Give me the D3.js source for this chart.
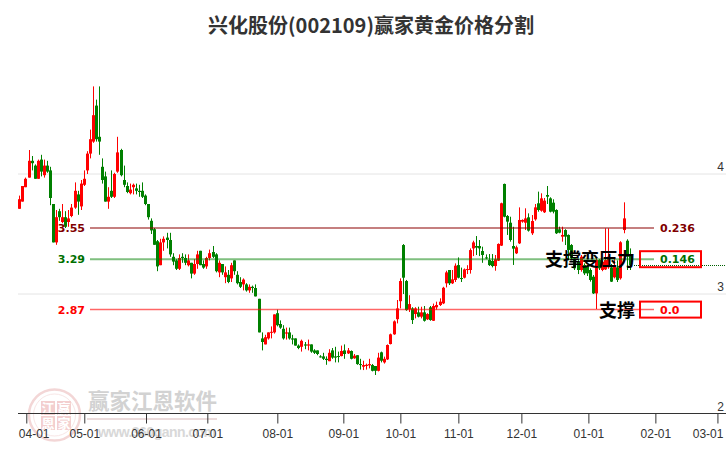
<!DOCTYPE html>
<html><head><meta charset="utf-8">
<script src="https://cdnjs.cloudflare.com/ajax/libs/d3/7.8.5/d3.min.js"></script>
<style>html,body{margin:0;padding:0;background:#fff}svg{display:block}</style>
</head><body><svg id="c" width="726" height="450"></svg>
<script>
const titleText = "兴化股份(002109)赢家黄金价格分割";
const tickLabels = ["04-01","05-01","06-01","07-01","08-01","09-01","10-01","11-01","12-01","01-01","02-01","03-01"];
const tickSlots = [2.28,21.19,41.31,61.3,84.12,105.64,124.23,143.14,163.68,185.53,207.37,227.6];
const priceTicks = [2,3,4];
const levels = [3.55,3.29,2.87];
const levelRatios = ["0.236","0.146","0.0"];
const opens = [3.71,3.77,3.89,3.97,4.11,4.07,3.96,4.12,3.99,4.07,4.03,3.75,3.43,3.69,3.60,3.64,3.60,3.65,3.72,3.83,
3.73,3.91,4.03,4.17,4.27,4.57,4.31,4.06,3.98,3.77,3.86,3.81,4.02,4.20,3.95,3.90,3.84,3.89,3.88,3.86,
3.86,3.82,3.75,3.61,3.54,3.44,3.24,3.43,3.47,3.45,3.31,3.28,3.21,3.31,3.30,3.24,3.26,3.17,3.25,3.36,
3.25,3.23,3.30,3.35,3.33,3.18,3.25,3.14,3.16,3.13,3.28,3.16,3.10,3.08,3.08,3.03,3.06,3.05,2.96,2.63,
2.58,2.63,2.68,2.68,2.84,2.75,2.71,2.67,2.68,2.63,2.63,2.57,2.56,2.58,2.57,2.58,2.53,2.53,2.48,2.48,
2.46,2.44,2.53,2.48,2.483,2.483,2.53,2.505,2.525,2.464,2.49,2.416,2.394,2.40,2.405,2.408,2.40,2.36,2.514,2.43,
2.455,2.583,2.664,2.79,2.94,3.408,3.108,2.872,2.88,2.833,2.847,2.811,2.847,2.789,2.889,2.777,2.889,2.908,2.922,3.089,
3.20,3.089,3.117,3.241,3.133,3.136,3.203,3.20,3.38,3.40,3.40,3.358,3.305,3.283,3.275,3.233,3.278,3.403,3.917,3.65,
3.594,3.40,3.339,3.422,3.603,3.594,3.639,3.506,3.622,3.756,3.694,3.681,3.825,3.797,3.761,3.70,3.539,3.478,3.533,3.492,
3.408,3.297,3.269,3.20,3.241,3.228,3.20,3.144,3.005,3.283,3.20,3.205,3.222,3.222,3.139,3.222,3.131,3.533,3.444,3.325];
const closes = [3.79,3.90,3.96,4.11,4.09,3.96,4.11,4.02,4.07,4.02,3.80,3.43,3.64,3.64,3.64,3.56,3.63,3.72,3.86,3.77,
3.92,3.96,4.17,4.29,4.49,4.29,4.27,3.95,3.77,3.81,3.81,4.00,4.18,3.99,3.91,3.85,3.87,3.91,3.86,3.85,
3.81,3.75,3.64,3.53,3.41,3.23,3.43,3.46,3.45,3.33,3.27,3.21,3.30,3.30,3.26,3.28,3.17,3.25,3.33,3.24,
3.22,3.30,3.34,3.31,3.19,3.26,3.18,3.18,3.10,3.24,3.19,3.09,3.06,3.12,3.03,3.06,3.05,2.98,2.68,2.60,
2.64,2.68,2.685,2.83,2.74,2.72,2.63,2.68,2.63,2.62,2.57,2.55,2.61,2.57,2.58,2.52,2.51,2.50,2.475,2.46,
2.45,2.51,2.47,2.47,2.475,2.525,2.50,2.53,2.46,2.486,2.416,2.41,2.408,2.41,2.416,2.36,2.36,2.47,2.444,2.46,
2.575,2.664,2.772,2.88,3.108,3.136,2.866,2.916,2.783,2.88,2.811,2.847,2.777,2.833,2.783,2.90,2.908,2.936,3.052,3.18,
3.089,3.122,3.236,3.136,3.128,3.205,3.208,3.366,3.43,3.386,3.38,3.325,3.30,3.241,3.233,3.289,3.417,3.756,3.644,3.603,
3.45,3.378,3.389,3.617,3.617,3.63,3.528,3.608,3.722,3.70,3.797,3.778,3.811,3.686,3.686,3.506,3.511,3.492,3.478,3.367,
3.297,3.214,3.20,3.311,3.172,3.172,3.117,3.005,3.283,3.214,3.269,3.283,3.311,3.103,3.228,3.117,3.431,3.63,3.311,3.24];
const highs = [3.82,3.90,3.97,4.20,4.15,4.08,4.12,4.16,4.12,4.11,4.06,3.75,3.70,3.71,3.75,3.69,3.70,3.75,3.93,3.86,
3.95,4.03,4.19,4.37,4.73,4.62,4.73,4.13,4.02,3.89,4.03,4.01,4.31,4.21,4.07,3.93,3.92,3.92,3.92,3.91,
3.93,3.83,3.75,3.63,3.55,3.45,3.46,3.48,3.51,3.51,3.34,3.29,3.33,3.34,3.33,3.33,3.26,3.29,3.36,3.36,
3.28,3.31,3.37,3.40,3.34,3.28,3.25,3.23,3.20,3.26,3.28,3.19,3.14,3.13,3.09,3.08,3.07,3.08,2.96,2.68,
2.66,2.68,2.73,2.83,2.87,2.78,2.74,2.72,2.72,2.66,2.63,2.58,2.62,2.60,2.62,2.58,2.54,2.53,2.49,2.51,
2.48,2.54,2.55,2.56,2.52,2.57,2.58,2.55,2.53,2.50,2.49,2.46,2.444,2.42,2.46,2.417,2.40,2.51,2.52,2.478,
2.58,2.67,2.78,2.95,3.13,3.416,3.117,2.99,2.89,2.89,2.894,2.894,2.90,2.84,2.90,2.92,2.936,2.964,3.06,3.194,
3.20,3.20,3.255,3.305,3.22,3.213,3.24,3.38,3.444,3.483,3.45,3.394,3.33,3.333,3.333,3.325,3.422,3.761,3.92,3.658,
3.644,3.56,3.403,3.722,3.622,3.714,3.672,3.658,3.75,3.853,3.839,3.80,3.90,3.806,3.789,3.706,3.561,3.561,3.54,3.497,
3.416,3.305,3.283,3.325,3.255,3.241,3.214,3.158,3.297,3.29,3.28,3.547,3.547,3.25,3.30,3.28,3.44,3.764,3.456,3.38];
const lows = [3.71,3.77,3.89,3.97,4.03,3.96,3.96,3.98,3.97,4.01,3.74,3.43,3.41,3.61,3.59,3.55,3.56,3.64,3.71,3.66,
3.70,3.90,4.00,4.13,4.26,4.27,4.16,3.92,3.77,3.71,3.80,3.80,4.01,3.98,3.89,3.84,3.83,3.83,3.83,3.81,
3.80,3.74,3.62,3.50,3.41,3.19,3.24,3.36,3.38,3.31,3.24,3.20,3.20,3.26,3.24,3.23,3.13,3.16,3.21,3.24,
3.21,3.21,3.28,3.30,3.18,3.14,3.16,3.09,3.09,3.10,3.16,3.08,3.05,3.03,3.02,3.01,3.01,2.98,2.68,2.53,
2.58,2.62,2.63,2.67,2.73,2.71,2.62,2.62,2.62,2.58,2.57,2.54,2.52,2.54,2.53,2.51,2.50,2.49,2.47,2.45,
2.41,2.44,2.46,2.43,2.43,2.48,2.46,2.50,2.455,2.46,2.41,2.37,2.366,2.37,2.38,2.355,2.325,2.355,2.43,2.42,
2.45,2.58,2.66,2.755,2.88,3.0,2.86,2.85,2.75,2.797,2.805,2.797,2.77,2.783,2.777,2.775,2.87,2.90,2.916,3.055,
3.075,3.083,3.10,3.13,3.10,3.13,3.166,3.17,3.316,3.325,3.316,3.26,3.29,3.233,3.222,3.194,3.275,3.40,3.639,3.492,
3.436,3.242,3.333,3.417,3.594,3.533,3.52,3.492,3.611,3.686,3.686,3.675,3.75,3.68,3.672,3.50,3.506,3.436,3.408,3.283,
3.283,3.20,3.166,3.186,3.158,3.15,3.103,3.0,2.875,3.20,3.19,3.20,3.21,3.10,3.13,3.10,3.12,3.506,3.20,3.20];

const svg = d3.select("#c");
const x = d3.scaleLinear().domain([0, opens.length-1]).range([19.3, 629.7]);
const y = d3.scaleLinear().domain([2,4]).range([414,174]);
const RED="#ff0000", GREEN="#008000";
const CJK='"Noto Sans CJK SC","Noto Sans",sans-serif';

// watermark
const wm = svg.append("g");
wm.append("circle").attr("cx",54.5).attr("cy",415).attr("r",25.5).attr("fill","none").attr("stroke","#f3d6d6").attr("stroke-width",2.5);
wm.append("circle").attr("cx",54.5).attr("cy",415).attr("r",21).attr("fill","none").attr("stroke","#f8e6e6").attr("stroke-width",1);
[["江",41,401],["赢",57,401],["恩",41,416],["家",57,416]].forEach(([t,a,b])=>{
  wm.append("rect").attr("x",a).attr("y",b).attr("width",14).attr("height",14).attr("fill","#f3cfcf");
  wm.append("text").attr("x",a+7).attr("y",b+12).attr("text-anchor","middle").attr("font-family",CJK).attr("font-size",13).attr("font-weight",700).attr("fill","#fff").text(t);
});
wm.append("text").attr("x",88).attr("y",409).attr("font-family",CJK).attr("font-size",21.5).attr("font-weight",700).attr("fill","#d2d2d2").text("赢家江恩软件");
wm.append("rect").attr("x",87).attr("y",418).attr("width",130).attr("height",2).attr("fill","#ecdcdc");
wm.append("text").attr("x",98).attr("y",437).attr("font-family","Arial,'Liberation Sans',sans-serif").attr("font-size",14).attr("font-weight",700).attr("fill","#d8d8d8").attr("textLength",118).text("www.360gann.com");

// grid
svg.append("g").selectAll("line").data(priceTicks.filter(d=>d>2)).join("line")
  .attr("x1",18).attr("x2",726).attr("y1",d=>y(d)).attr("y2",d=>y(d)).attr("stroke","#e4e4e4").attr("stroke-width",1);

// axis
const ax = d3.axisBottom(x).tickValues(tickSlots).tickFormat((d,i)=>tickLabels[i]).tickSize(10).tickPadding(6);
const axG = svg.append("g").attr("transform","translate(0,413.5)").call(ax);
axG.select(".domain").remove();
axG.append("line").attr("x1",18).attr("x2",726).attr("stroke","#333");
axG.selectAll(".tick line").attr("stroke","#333");
axG.selectAll("text").attr("fill","#333").attr("font-size",12).attr("font-family","Arial,'Liberation Sans',sans-serif");
const ticksText = axG.selectAll(".tick text");
ticksText.filter((d,i)=>i===0).attr("text-anchor","start").attr("x",-8);
ticksText.filter((d,i)=>i===tickLabels.length-1).attr("text-anchor","end").attr("x",5.5);

// price labels
svg.append("g").selectAll("text").data(priceTicks).join("text")
  .attr("x",724).attr("y",d=>y(d)-3).attr("text-anchor","end").attr("fill","#333")
  .attr("font-size",12).attr("font-family","Arial,'Liberation Sans',sans-serif").text(d=>d);

// candles
const idx = d3.range(opens.length);
const col = i => closes[i]>=opens[i] ? RED : GREEN;
const cg = svg.append("g");
cg.selectAll("line").data(idx).join("line")
  .attr("x1",i=>Math.round(x(i))+.5).attr("x2",i=>Math.round(x(i))+.5)
  .attr("y1",i=>y(highs[i])).attr("y2",i=>y(lows[i]))
  .attr("stroke",col).attr("stroke-width",1);
cg.selectAll("rect").data(idx).join("rect")
  .attr("x",i=>Math.round(x(i))-1).attr("width",3)
  .attr("y",i=>y(Math.max(opens[i],closes[i])))
  .attr("height",i=>Math.max(1,Math.abs(y(opens[i])-y(closes[i]))))
  .attr("fill",col);

// levels
const levelCol = ["rgba(139,0,0,.5)","rgba(0,128,0,.5)","rgba(255,0,0,.6)"];
const levelText = ["#800000","#007000","#ff0000"];
const lv = svg.append("g");
lv.selectAll("line").data(levels).join("line")
  .attr("x1",90).attr("x2",654).attr("y1",d=>y(d)).attr("y2",d=>y(d))
  .attr("stroke",(d,i)=>levelCol[i]).attr("stroke-width",(d,i)=>i===2?1.5:2);
const F='"DejaVu Sans",Verdana,sans-serif';
lv.selectAll("text.l").data(levels).join("text").attr("class","l")
  .attr("x",85).attr("y",d=>y(d)+4).attr("text-anchor","end").attr("font-family",F).attr("font-size",11).attr("font-weight",700)
  .attr("fill",(d,i)=>levelText[i]).text(d=>d.toFixed(2));
lv.selectAll("text.r").data(levels).join("text").attr("class","r")
  .attr("x",660).attr("y",d=>y(d)+4).attr("font-family",F).attr("font-size",11).attr("font-weight",700)
  .attr("fill",(d,i)=>levelText[i]).text((d,i)=>levelRatios[i]);

// annotations
svg.append("line").attr("x1",634).attr("x2",726).attr("y1",265.5).attr("y2",265.5).attr("stroke","#006000").attr("stroke-dasharray","1 1");
const boxed = [1,2];
svg.append("g").selectAll("rect").data(boxed).join("rect")
  .attr("x",640).attr("width",61).attr("y",i=>y(levels[i])-8).attr("height",16)
  .attr("fill","none").attr("stroke","#ff0000").attr("stroke-width",2);
const notes = [["支撑变压力",1],["支撑",2]];
svg.append("g").selectAll("text").data(notes).join("text")
  .attr("x",635).attr("y",d=>y(levels[d[1]])+7).attr("text-anchor","end")
  .attr("font-family",CJK).attr("font-size",18).attr("font-weight",700).attr("fill","#000").text(d=>d[0]);

// title
svg.append("text").attr("x",371).attr("y",33).attr("text-anchor","middle").attr("font-family",CJK)
  .attr("font-size",20).attr("font-weight",700).attr("fill","#333").text(titleText);
</script></body></html>
